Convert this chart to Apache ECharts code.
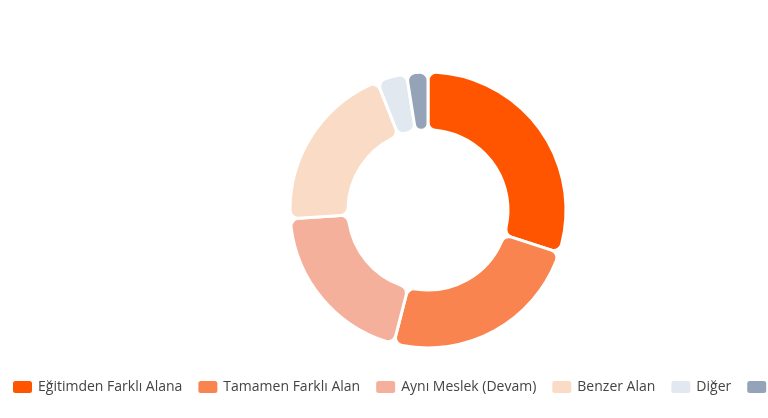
<!DOCTYPE html>
<html>
<head>
<meta charset="utf-8">
<script src="https://cdn.jsdelivr.net/npm/echarts@6/dist/echarts.min.js"></script>
<style>html,body{margin:0;padding:0;background:#fff}#chart{width:768px;height:418px}</style>
</head>
<body>
<div id="chart"></div>
<script>
var names = ['Eğitimden Farklı Alana', 'Tamamen Farklı Alan', 'Aynı Meslek (Devam)', 'Benzer Alan', 'Diğer', 'Belirtilmemiş'];
var values = [30, 24, 20, 20, 3.5, 2.5];
var colors = ['#ff5500', '#fa8450', '#f5b09c', '#fadcc6', '#e2e8f0', '#94a3b8'];

var chart = echarts.init(document.getElementById('chart'));
var dataList = names.map(function (n, i) {
  return { name: n, value: values[i], itemStyle: { color: colors[i] } };
});
chart.setOption({
  legend: {
    left: 6,
    bottom: 18,
    width: 3000,
    itemWidth: 21,
    itemHeight: 14,
    itemGap: 14,
    icon: 'roundRect',
    textStyle: { fontFamily: 'Open Sans', fontSize: 14, color: '#444' }
  },
  series: [{
    type: 'pie',
    center: [428, 210],
    radius: [80, 138],
    startAngle: 90,
    label: { show: false },
    labelLine: { show: false },
    itemStyle: { borderRadius: 8, borderColor: '#fff', borderWidth: 3 },
    data: dataList
  }]
});
</script>
</body>
</html>
